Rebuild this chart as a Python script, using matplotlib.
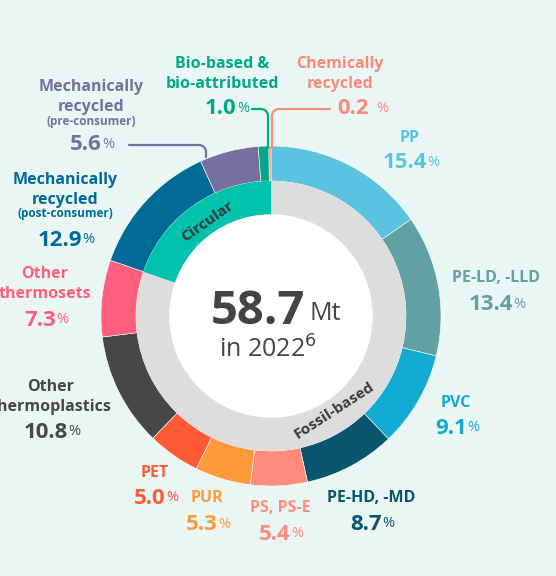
import numpy as np
import matplotlib.pyplot as plt

# Plastic production share, clockwise from 12 o'clock
categories = ["PP", "PE-LD, -LLD", "PVC", "PE-HD, -MD", "PS, PS-E", "PUR", "PET",
              "Other thermoplastics", "Other thermosets",
              "Mechanically recycled (post-consumer)", "Mechanically recycled (pre-consumer)",
              "Bio-based & bio-attributed", "Chemically recycled"]
shares = [15.4, 13.4, 9.1, 8.7, 5.4, 5.3, 5.0, 10.8, 7.3, 12.9, 5.6, 1.0, 0.2]
circular = [False] * 9 + [True] * 4
colors = ["#5BC2E0", "#61A0A3", "#13AAD4", "#08566E", "#FF8C7A", "#FF9A3C", "#FF5A36",
          "#474747", "#FF5F7A", "#006B96", "#75709E", "#00A887", "#F98A79"]

total_mt = 58.7
year = 2022

BG = "#EAF6F4"
W, H = 556, 576
CX, CY = 271, 316  # pixel coords, y from top


def Y(py):
    return H - py


fig = plt.figure(figsize=(5.56, 5.76), dpi=100, facecolor=BG)
ax = fig.add_axes([0, 0, 1, 1])
ax.set_facecolor(BG)
plt.rcParams['font.family'] = ['Open Sans', 'DejaVu Sans']

# outer ring
ax.pie(shares, colors=colors, startangle=90, counterclock=False, radius=170,
       center=(CX, Y(CY)), wedgeprops=dict(width=35, linewidth=0.4, edgecolor="white"))

# inner ring: fossil vs circular
circ = sum(s for s, c in zip(shares, circular) if c)
fossil = sum(s for s, c in zip(shares, circular) if not c)
ax.pie([fossil, circ], colors=["#DDDDDD", "#00C2AD"], startangle=90, counterclock=False,
       radius=135, center=(CX, Y(CY)), wedgeprops=dict(width=34, linewidth=0))
ax.add_patch(plt.Circle((CX, Y(CY)), 101, color="white", zorder=3))

ax.set_xlim(0, W)
ax.set_ylim(0, H)
ax.set_aspect("equal")
ax.axis("off")

# ring labels
ax.text(207, Y(222), "Circular", rotation=35, ha="center", va="center",
        fontsize=11, fontweight="bold", color="#3A3A3A", zorder=4)
ax.text(334, Y(410), "Fossil-based", rotation=33, ha="center", va="center",
        fontsize=11, fontweight="bold", color="#3A3A3A", zorder=4)

# centre text
t = ax.text(258, Y(312), f"{total_mt}", ha="center", va="center", fontsize=34,
            fontweight="bold", color="#444444", zorder=5)
ax.annotate("Mt", xy=(1, 0.2), xycoords=t, xytext=(3, 0), textcoords="offset points",
            ha="left", va="bottom", fontsize=18, color="#444444", zorder=5)
ax.text(268, Y(350), f"in {year}$^{{6}}$", ha="center", va="center", fontsize=18,
        color="#444444", zorder=5)


def label(name_lines, pct, cx, y_top, color, pct_y, sub=None, pct_x=None, gap=0, dy=20):
    y = y_top
    for line in name_lines:
        ax.text(cx, Y(y), line, ha="center", va="center", fontsize=11.5,
                fontweight="bold", color=color)
        y += dy
    if sub:
        ax.text(cx, Y(y - 6), sub, ha="center", va="center", fontsize=8.5,
                fontweight="bold", color=color)
    nx = cx - 5 if pct_x is None else pct_x
    num = ax.text(nx, Y(pct_y), f"{pct:.1f}", ha="center", va="center",
                  fontsize=16, fontweight="bold", color=color)
    ax.annotate("%", xy=(1, 0.18), xycoords=num, xytext=(gap, 0),
                textcoords="offset points", ha="left", va="bottom",
                fontsize=10.5, color=color)


label(["PP"], shares[0], 410, 138, colors[0], 163)
label(["PE-LD, -LLD"], shares[1], 496, 278, colors[1], 305)
label(["PVC"], shares[2], 456, 403, colors[2], 428)
label(["PE-HD, -MD"], shares[3], 371, 498, colors[3], 524)
label(["PS, PS-E"], shares[4], 280, 508, colors[4], 534)
label(["PUR"], shares[5], 207, 498, colors[5], 525)
label(["PET"], shares[6], 155, 473, colors[6], 498)
label(["Other", "thermoplastics"], shares[7], 51, 387, colors[7], 432)
label(["Other", "thermosets"], shares[8], 45, 274, colors[8], 320)
label(["Mechanically", "recycled"], shares[9], 65, 180, colors[9], 240,
      sub="(post-consumer)")
label(["Mechanically", "recycled"], shares[10], 91, 87, colors[10], 145,
      sub="(pre-consumer)")
label(["Bio-based &", "bio-attributed"], shares[11], 222, 64, colors[11], 109, pct_x=221)
label(["Chemically", "recycled"], shares[12], 340, 64, "#F98A79", 109, pct_x=353, gap=5)


def connector(x0, y0, x1, y1, color, r=7):
    # horizontal from (x0, y0) then rounded bend down to (x1, y1)
    sgn = 1 if x1 > x0 else -1
    xs = [x0, x1 - sgn * r]
    ys = [y0, y0]
    th = np.linspace(0, np.pi / 2, 12)
    xs += list(x1 - sgn * r + sgn * r * np.sin(th))
    ys += list(y0 + r - r * np.cos(th))
    xs.append(x1)
    ys.append(y1)
    ax.plot(xs, [Y(v) for v in ys], color=color, lw=1.6, solid_capstyle="round", zorder=2)


connector(129, 145, 206, 157, colors[10])
connector(252, 109, 268, 148, colors[11])
connector(330, 109, 272, 148, "#F98A79")

fig.savefig("out.png", dpi=100, facecolor=BG)
